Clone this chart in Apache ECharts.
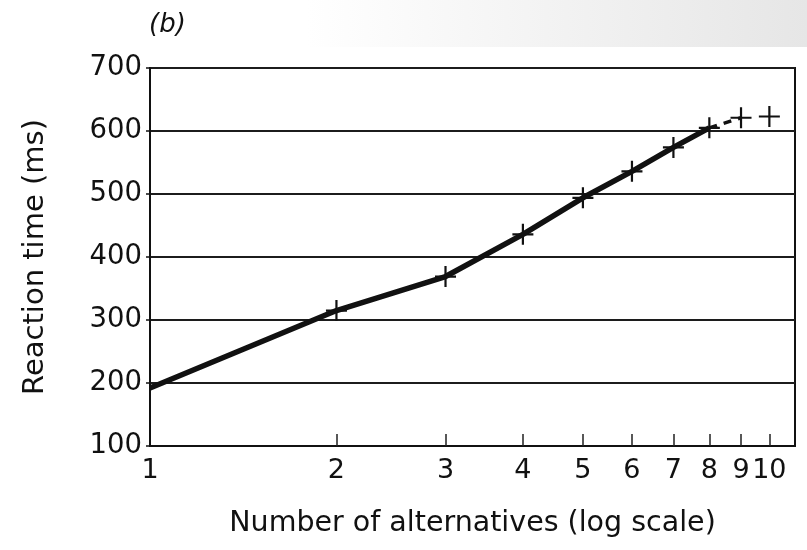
<!DOCTYPE html>
<html>
<head>
<meta charset="utf-8">
<style>
  html, body { margin: 0; padding: 0; background: #ffffff; }
  #chart { width: 807px; height: 550px; }
</style>
<script src="https://cdn.jsdelivr.net/npm/echarts@6/dist/echarts.min.js"></script>
</head>
<body>
<div id="chart"></div>
<script>
// Number of alternatives (log-scaled x) and mean reaction time in ms
const alternatives = [1, 2, 3, 4, 5, 6, 7, 8, 9, 10];
const reactionMs   = [192, 315, 369, 436, 494, 536, 574, 605, 621, 623];

// the fitted line runs solid up to 8 alternatives, then a short dash to 9
const solidUpTo = 8;
const dashedUpTo = 9;

// tick and label values along the log axis
const xLabelValues = [1, 2, 3, 4, 5, 6, 7, 8, 9, 10];
const xTickValues  = [2, 3, 4, 5, 6, 7, 8, 9, 10];
const yTicks = [100, 200, 300, 400, 500, 600, 700];

const ink = '#111111';
const font = 'DejaVu Sans';

const pairs = alternatives.map((n, i) => [n, reactionMs[i]]);
const solidPart = pairs.filter(p => p[0] <= solidUpTo);
const dashedPart = pairs.filter(p => p[0] >= solidUpTo && p[0] <= dashedUpTo);
const crossPart = pairs.filter(p => p[0] >= 2);

const chart = echarts.init(document.getElementById('chart'), null, { renderer: 'canvas' });

chart.setOption({
  animation: false,
  backgroundColor: '#ffffff',
  graphic: [
    {
      type: 'rect',
      left: 0, top: 0,
      shape: { x: 0, y: 0, width: 807, height: 47 },
      style: {
        fill: new echarts.graphic.LinearGradient(0, 0, 1, 0, [
          { offset: 0, color: '#ffffff' },
          { offset: 0.38, color: '#ffffff' },
          { offset: 1, color: '#e6e6e6' }
        ])
      },
      z: -10,
      silent: true
    },
    {
      type: 'text',
      left: 149, top: 12,
      style: {
        text: '(b)',
        font: 'italic 26px "DejaVu Sans"',
        fill: ink
      }
    }
  ],
  grid: {
    left: 150, right: 12, top: 68, bottom: 104,
    show: true,
    borderColor: ink,
    borderWidth: 2,
    backgroundColor: 'transparent'
  },
  xAxis: {
    type: 'log',
    logBase: 10,
    min: 1,
    max: 11,
    name: 'Number of alternatives (log scale)',
    nameLocation: 'middle',
    nameGap: 63,
    nameTextStyle: { fontFamily: font, fontSize: 28.5, color: ink },
    axisLine: { show: true, lineStyle: { color: ink, width: 2 } },
    axisTick: {
      show: true,
      inside: true,
      length: 12,
      customValues: xTickValues,
      lineStyle: { color: '#222222', width: 1.5 }
    },
    axisLabel: {
      customValues: xLabelValues,
      fontFamily: font,
      fontSize: 27,
      color: ink,
      margin: 11
    },
    minorTick: { show: false },
    splitLine: { show: false }
  },
  yAxis: {
    type: 'value',
    min: yTicks[0],
    max: yTicks[yTicks.length - 1],
    interval: 100,
    name: 'Reaction time (ms)',
    nameLocation: 'middle',
    nameGap: 100,
    nameTextStyle: { fontFamily: font, fontSize: 29, color: ink },
    axisLine: { show: true, lineStyle: { color: ink, width: 2 } },
    axisTick: { show: true, length: 4, lineStyle: { color: ink, width: 1.5 } },
    axisLabel: {
      fontFamily: font,
      fontSize: 27.5,
      color: ink,
      margin: 8
    },
    splitLine: { show: true, lineStyle: { color: '#1c1c1c', width: 2 } }
  },
  series: [
    {
      type: 'line',
      data: solidPart,
      symbol: 'none',
      lineStyle: { color: ink, width: 5.5 },
      z: 3
    },
    {
      type: 'line',
      data: dashedPart,
      symbol: 'none',
      lineStyle: { color: ink, width: 3.5, type: [8, 7] },
      z: 3
    },
    {
      type: 'scatter',
      data: crossPart,
      symbol: 'path://M10,0 L10,20 M0,10 L20,10',
      symbolSize: 21,
      itemStyle: { color: 'rgba(0,0,0,0)', borderColor: ink, borderWidth: 2.2, opacity: 1 },
      z: 4
    }
  ]
});
</script>
</body>
</html>
